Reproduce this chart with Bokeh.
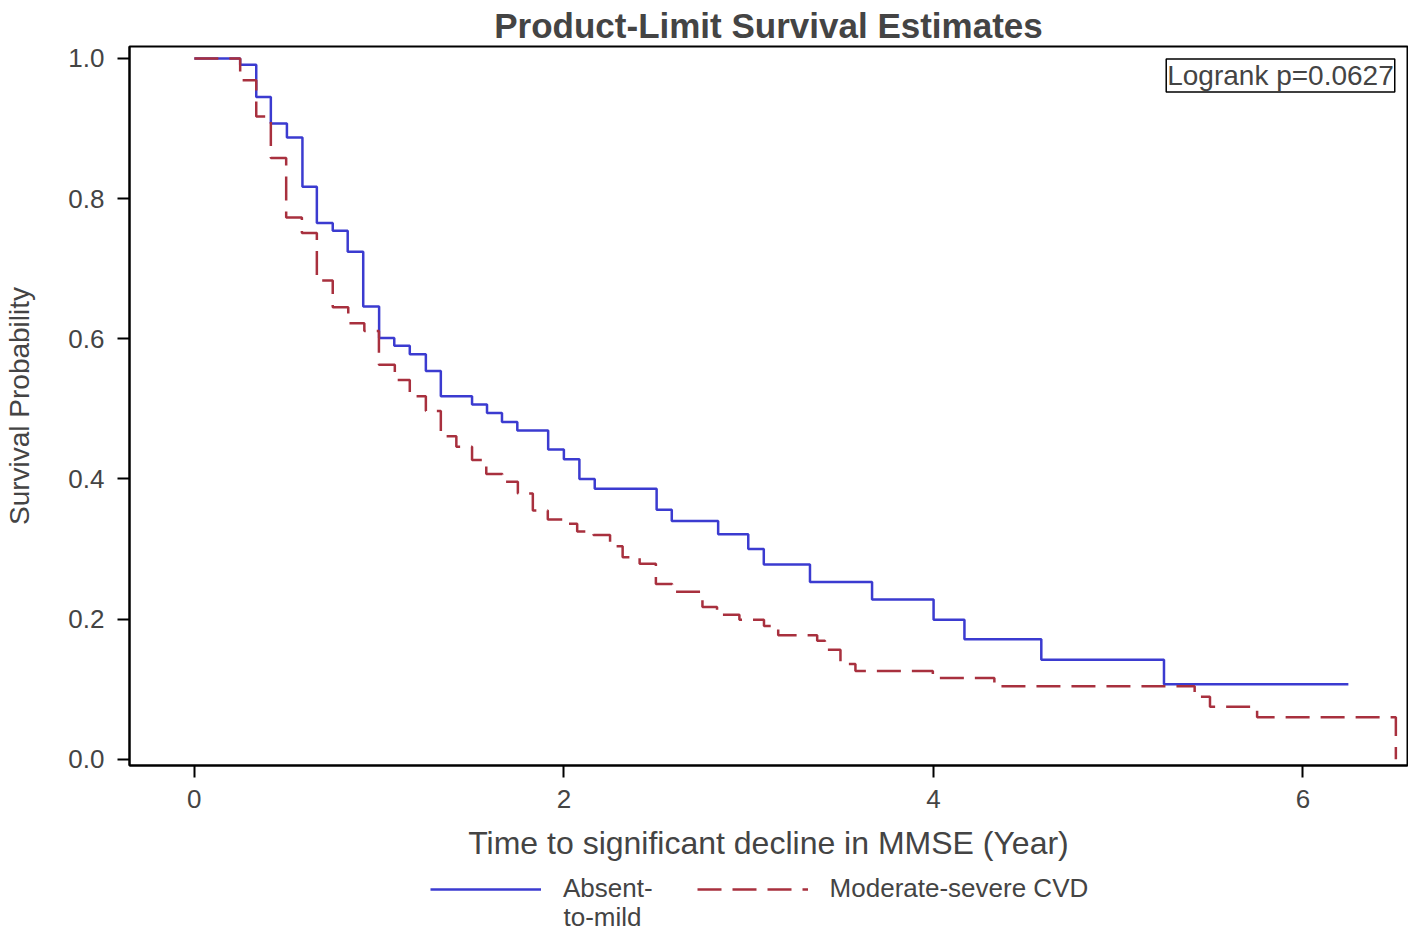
from bokeh.plotting import figure
from bokeh.layouts import column
from bokeh.models import Range1d, Legend, LegendItem, Label, FixedTicker
from bokeh.embed import file_html
from bokeh.resources import INLINE

# ---- data ----
x_ticks = [0, 2, 4, 6]
y_ticks = [0.0, 0.2, 0.4, 0.6, 0.8, 1.0]

absent_t = [0, 0.248, 0.335, 0.414, 0.501, 0.585, 0.663, 0.749, 0.830, 0.914,
            1.000, 1.082, 1.166, 1.253, 1.334, 1.503, 1.584, 1.665, 1.748, 1.915,
            2.000, 2.084, 2.167, 2.502, 2.584, 2.835, 2.998, 3.082, 3.332, 3.668,
            4.001, 4.168, 4.584, 5.248, 6.246]
absent_s = [1.0, 0.991, 0.945, 0.907, 0.887, 0.817, 0.765, 0.754, 0.724, 0.646,
            0.601, 0.590, 0.578, 0.554, 0.518, 0.506, 0.494, 0.481, 0.469, 0.442,
            0.428, 0.400, 0.386, 0.356, 0.340, 0.321, 0.300, 0.278, 0.253, 0.228,
            0.199, 0.171, 0.142, 0.107, 0.107]

cvd_t = [0, 0.248, 0.335, 0.414, 0.497, 0.582, 0.663, 0.749, 0.833, 0.920,
         0.999, 1.085, 1.166, 1.253, 1.334, 1.418, 1.503, 1.580, 1.667, 1.751,
         1.832, 1.913, 1.998, 2.072, 2.160, 2.250, 2.318, 2.410, 2.498, 2.586,
         2.750, 2.829, 2.950, 3.083, 3.160, 3.371, 3.413, 3.497, 3.578, 3.997,
         4.330, 5.414, 5.497, 5.752, 6.503]
cvd_s = [1.0, 0.969, 0.917, 0.858, 0.773, 0.751, 0.683, 0.645, 0.622, 0.611,
         0.563, 0.541, 0.518, 0.497, 0.461, 0.446, 0.427, 0.407, 0.396, 0.379,
         0.355, 0.342, 0.336, 0.325, 0.320, 0.304, 0.288, 0.279, 0.250, 0.239,
         0.217, 0.206, 0.199, 0.190, 0.177, 0.169, 0.156, 0.136, 0.126, 0.116,
         0.104, 0.089, 0.075, 0.060, 0.0]

labels = ["Absent-", "Moderate-severe CVD"]
label_wrap = "to-mild"
logrank_text = "Logrank p=0.0627"

FONT = "Liberation Sans"
BLUE = "#3B3BD0"
RED = "#A8303E"
W = 1408
LEFT = 129
RIGHT = 1

p = figure(width=W, height=866, output_backend="svg", toolbar_location=None,
           x_range=Range1d(-0.351, 6.566), y_range=Range1d(-0.009, 1.017),
           min_border_left=LEFT, min_border_right=RIGHT, min_border_top=46,
           min_border_bottom=101)

p.title.text = "Product-Limit Survival Estimates"
p.title.align = "center"
p.title.vertical_align = "top"
p.title.text_font = FONT
p.title.text_font_size = "35px"
p.title.text_font_style = "bold"
p.title.text_line_height = 1.0
p.title.offset = 0
p.title.standoff = 0

p.grid.visible = False
p.outline_line_color = "black"
p.outline_line_width = 2
p.background_fill_color = "white"

for ax in (p.xaxis[0], p.yaxis[0]):
    ax.axis_line_width = 2
    ax.major_tick_line_width = 2
    ax.major_tick_out = 12
    ax.major_tick_in = 0
    ax.minor_tick_out = 0
    ax.minor_tick_in = 0
    ax.major_label_text_font = FONT
    ax.major_label_text_font_size = "26px"
    ax.axis_label_text_font = FONT
    ax.axis_label_text_font_style = "normal"

p.xaxis.ticker = FixedTicker(ticks=x_ticks)
p.yaxis.ticker = FixedTicker(ticks=y_ticks)
p.yaxis.major_label_overrides = {t: f"{t:.1f}" for t in y_ticks}
p.xaxis.major_label_standoff = 12
p.yaxis.major_label_standoff = 13
p.xaxis.axis_label = "Time to significant decline in MMSE (Year)"
p.xaxis.axis_label_text_font_size = "32px"
p.xaxis.axis_label_standoff = 14
p.yaxis.axis_label = "Survival Probability"
p.yaxis.axis_label_text_font_size = "28px"
p.yaxis.axis_label_standoff = 30

p.step(absent_t, absent_s, mode="after", line_color=BLUE, line_width=2.5)
p.step(cvd_t, cvd_s, mode="after", line_color=RED, line_width=2.5,
       line_dash="24 11")

lbl = Label(x=6.497, y=0.999, text=logrank_text, text_align="right",
            text_baseline="top", text_font=FONT, text_font_size="28px",
            border_line_color="black", border_line_width=1.5,
            background_fill_color="white", padding=1)
p.add_layout(lbl)

# ---- legend strip below the plot (its x axis is in page pixels) ----
LH = 68
q = figure(width=W, height=LH, output_backend="svg", toolbar_location=None,
           x_range=Range1d(LEFT, W - RIGHT), y_range=Range1d(0, LH),
           min_border_left=LEFT, min_border_right=RIGHT,
           min_border_top=0, min_border_bottom=0, outline_line_color=None)
q.axis.visible = False
q.grid.visible = False
# proxy renderers for the legend glyphs (kept outside the visible range)
g1 = q.line([-20, -10], [-20, -20], line_color=BLUE, line_width=2.5)
g2 = q.line([-20, -10], [-20, -20], line_color=RED, line_width=2.5,
            line_dash="24 11")

legend = Legend(items=[LegendItem(label=labels[0], renderers=[g1]),
                       LegendItem(label=labels[1], renderers=[g2])],
                orientation="horizontal", location=(430 - LEFT, 30),
                border_line_color=None, background_fill_alpha=0,
                glyph_width=111, glyph_height=30, label_height=30,
                label_standoff=22, spacing=44,
                label_text_font=FONT, label_text_font_size="26px",
                margin=0, padding=0)
q.add_layout(legend)

wrap = Label(x=563, y=18, text=label_wrap, text_align="left",
             text_baseline="middle", text_font=FONT, text_font_size="26px")
q.add_layout(wrap)

open("out.html", "w").write(file_html(column(p, q, spacing=0), INLINE))
